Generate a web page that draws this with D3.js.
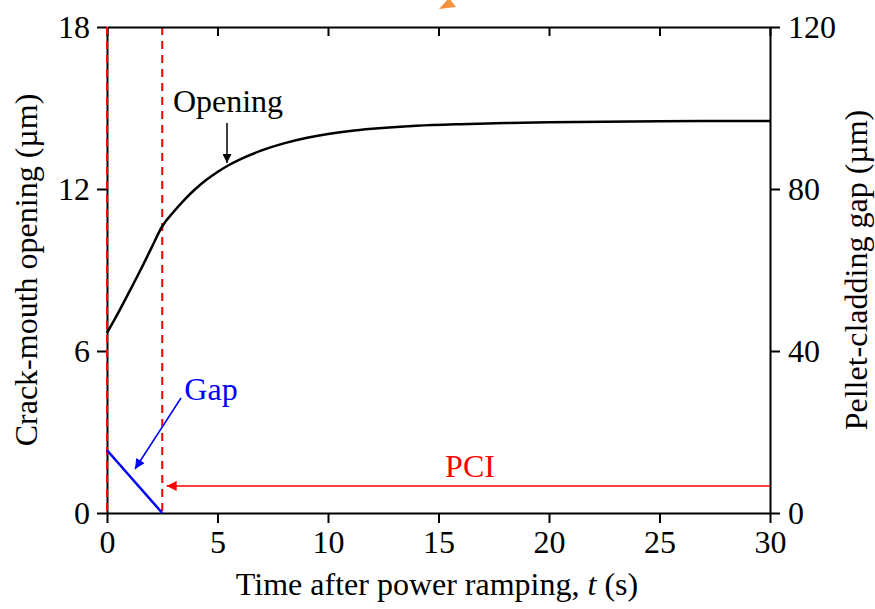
<!DOCTYPE html>
<html lang="en">
  <head>
    <meta charset="UTF-8" />
    <style>
      body { margin: 0; background: #fff; }
      svg { display: block; }
      text { font-family: "Liberation Serif", "Times New Roman", serif; }
    </style>
    <title>Crack-mouth opening</title>
  </head>
  <body>
    <script src="https://cdn.jsdelivr.net/npm/d3@7"></script>
    <script>
      // opening curve (left axis, um)
      const openT = [0, 0.5, 1, 1.5, 2, 2.5, 3, 3.5, 4, 4.5, 5, 5.5, 6, 7, 8, 9, 10, 11, 12, 14, 16, 18, 20, 25, 30];
      const openV = [6.67, 7.4, 8.18, 8.97, 9.8, 10.62, 11.14, 11.6, 12.0, 12.34, 12.63, 12.88, 13.09, 13.43, 13.69, 13.89, 14.04, 14.15, 14.23, 14.34, 14.4, 14.44, 14.47, 14.51, 14.52];
      // gap (right axis, um)
      const gapT = [0, 2.5];
      const gapV = [15.5, 0];
      const pciLevel = 6.67; // right axis
      const xTicks = [0, 5, 10, 15, 20, 25, 30];
      const yLeftTicks = [0, 6, 12, 18];
      const yRightTicks = [0, 40, 80, 120];

      const width = 875, height = 609;
      const pLeft = 107, pRight = 770, pTop = 27, pBottom = 513;
      const fs = 32;

      const x = d3.scaleLinear().domain([0, 30]).range([pLeft, pRight]);
      const yL = d3.scaleLinear().domain([0, 18]).range([pBottom, pTop]);
      const yR = d3.scaleLinear().domain([0, 120]).range([pBottom, pTop]);

      const svg = d3.select("body").append("svg")
        .attr("width", width).attr("height", height);

      const defs = svg.append("defs");
      const marker = (id, color, w, h) => defs.append("marker")
        .attr("id", id).attr("viewBox", "0 0 10 10")
        .attr("refX", 10).attr("refY", 5)
        .attr("markerWidth", w).attr("markerHeight", h)
        .attr("markerUnits", "userSpaceOnUse")
        .attr("orient", "auto")
        .append("path").attr("d", "M0,0L10,5L0,10Z").attr("fill", color);
      marker("ahBlack", "#000", 16, 9);
      marker("ahBlue", "#0000ff", 16, 10);
      marker("ahRed", "#ff0000", 18, 10);

      // orange fragment at top
      svg.append("path")
        .attr("d", "M449,-2L439,9L456,7Z")
        .attr("fill", "#f5923e");

      // red dashed verticals
      [0, 2.5].forEach(t => {
        svg.append("line")
          .attr("x1", x(t)).attr("x2", x(t))
          .attr("y1", pTop).attr("y2", pBottom)
          .attr("stroke", "#ff0000").attr("stroke-width", 2)
          .attr("stroke-dasharray", "8,6");
      });

      // axes
      const ax = (g, axis) => {
        g.call(axis);
        g.selectAll("path, line").attr("stroke", "#000").attr("stroke-width", 2);
        g.selectAll("text").attr("font-size", fs).attr("fill", "#000")
          .style("font-family", "Liberation Serif");
        return g;
      };
      ax(svg.append("g").attr("transform", `translate(0,${pBottom})`),
        d3.axisBottom(x).tickValues(xTicks).tickSize(10).tickSizeOuter(0).tickPadding(7));
      ax(svg.append("g").attr("transform", `translate(0,${pTop})`),
        d3.axisBottom(x).tickValues(xTicks).tickSize(9).tickSizeOuter(0).tickFormat(""));
      ax(svg.append("g").attr("transform", `translate(${pLeft},0)`),
        d3.axisLeft(yL).tickValues(yLeftTicks).tickSize(10).tickSizeOuter(0).tickPadding(7));
      ax(svg.append("g").attr("transform", `translate(${pRight},0)`),
        d3.axisRight(yR).tickValues(yRightTicks).tickSize(10).tickSizeOuter(0).tickPadding(8));

      // left red dashed overlay again on axis
      svg.append("line")
        .attr("x1", x(0)).attr("x2", x(0)).attr("y1", pTop).attr("y2", pBottom)
        .attr("stroke", "#ff0000").attr("stroke-width", 2).attr("stroke-dasharray", "8,6");

      // opening curve
      svg.append("path")
        .datum(openT.map((t, i) => [t, openV[i]]))
        .attr("fill", "none").attr("stroke", "#000").attr("stroke-width", 2.5)
        .attr("d", d3.line().x(d => x(d[0])).y(d => yL(d[1])).curve(d3.curveMonotoneX));

      // gap line
      svg.append("path")
        .datum(gapT.map((t, i) => [t, gapV[i]]))
        .attr("fill", "none").attr("stroke", "#0000ff").attr("stroke-width", 2.5)
        .attr("d", d3.line().x(d => x(d[0])).y(d => yR(d[1])));

      // PCI arrow
      svg.append("line")
        .attr("x1", x(30)).attr("x2", x(2.7))
        .attr("y1", yR(pciLevel)).attr("y2", yR(pciLevel))
        .attr("stroke", "#ff0000").attr("stroke-width", 1.5)
        .attr("marker-end", "url(#ahRed)");
      svg.append("text").attr("x", 470).attr("y", 477)
        .attr("text-anchor", "middle").attr("font-size", fs).attr("fill", "#ff0000")
        .text("PCI");

      // Opening annotation
      svg.append("text").attr("x", 228).attr("y", 112)
        .attr("text-anchor", "middle").attr("font-size", fs).attr("fill", "#000")
        .text("Opening");
      svg.append("line")
        .attr("x1", 227).attr("y1", 123).attr("x2", 227).attr("y2", 163)
        .attr("stroke", "#000").attr("stroke-width", 1.5)
        .attr("marker-end", "url(#ahBlack)");

      // Gap annotation
      svg.append("text").attr("x", 211).attr("y", 400)
        .attr("text-anchor", "middle").attr("font-size", fs).attr("fill", "#0000ff")
        .text("Gap");
      svg.append("line")
        .attr("x1", 181).attr("y1", 398).attr("x2", 135).attr("y2", 469)
        .attr("stroke", "#0000ff").attr("stroke-width", 1.5)
        .attr("marker-end", "url(#ahBlue)");

      // axis titles
      const xt = svg.append("text").attr("x", 437).attr("y", 595)
        .attr("text-anchor", "middle").attr("font-size", fs);
      xt.append("tspan").text("Time after power ramping, ");
      xt.append("tspan").attr("font-style", "italic").text("t");
      xt.append("tspan").text(" (s)");

      svg.append("text")
        .attr("transform", `translate(37,${(pTop + pBottom) / 2}) rotate(-90)`)
        .attr("text-anchor", "middle").attr("font-size", fs)
        .text("Crack-mouth opening (\u00b5m)");
      svg.append("text")
        .attr("transform", `translate(867,${(pTop + pBottom) / 2}) rotate(-90)`)
        .attr("text-anchor", "middle").attr("font-size", fs)
        .text("Pellet-cladding gap (\u00b5m)");
    </script>
  </body>
</html>
